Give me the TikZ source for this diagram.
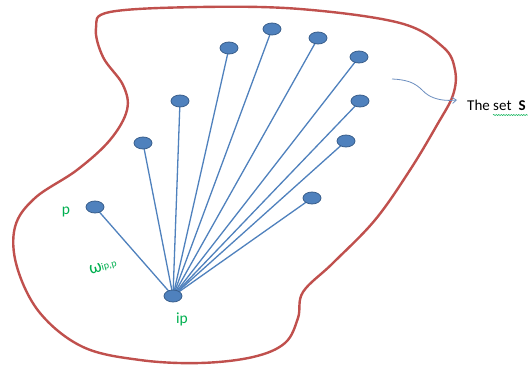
\documentclass[tikz,border=0pt]{standalone}
\usepackage{fontspec}
\setmainfont{Carlito}
\usetikzlibrary{shapes.geometric,backgrounds,decorations.pathmorphing,arrows.meta}
\definecolor{blob}{HTML}{C0504D}
\definecolor{ptfill}{HTML}{4F81BD}
\definecolor{ptedge}{HTML}{385D8A}
\definecolor{lbl}{HTML}{00B050}
\definecolor{callout}{HTML}{6C8EBF}
\tikzset{
  pt/.style={ellipse, fill=ptfill, draw=ptedge, line width=0.8pt, minimum width=18pt, minimum height=12pt, inner sep=0pt},
  ray/.style={draw=ptfill, line width=1.3pt},
  lab/.style={text=lbl, font=\fontsize{15.5}{17}\selectfont, inner sep=0pt},
}
\begin{document}
\begin{tikzpicture}[x=1pt,y=-1pt]
\useasboundingbox (0,0) rectangle (528,367);
% blob
\draw[blob, line width=2.4pt] plot[smooth cycle, tension=0.6] coordinates {
 (110,12) (200,7) (300,9) (400,23) (443,47) (455,70) (453,95) (437,125)
 (410,170) (375,220) (333,263) (303,292) (298,318) (285,343) (253,357)
 (200,363) (140,360) (83,347) (40,313) (17,267) (15,227) (35,198)
 (77,170) (110,140) (127,110) (123,85) (103,57) (96,28)};
% nodes
\node[pt] (ip) at (173,296) {};
\node[pt] (p)  at (95,207) {};
\node[pt] (n1) at (143,143) {};
\node[pt] (n2) at (180,101) {};
\node[pt] (n3) at (229,48) {};
\node[pt] (n4) at (272,29) {};
\node[pt] (n5) at (318,38) {};
\node[pt] (n6) at (359,57) {};
\node[pt] (n7) at (360,101) {};
\node[pt] (n8) at (346,141) {};
\node[pt] (n9) at (312,198) {};
\begin{scope}[on background layer]
\fill[white] (0,0) rectangle (528,367);
\foreach \n in {p,n1,n2,n3,n4,n5,n6,n7,n8,n9}
  \draw[ray] (ip.center) -- (\n.center);
\end{scope}
% labels
\node[lab] (lp) at (66,212) {p};
\node[lab, rotate=15, font=\fontsize{18}{20}\selectfont] (lw) at (103,267) {ω\raisebox{0.1ex}{\fontsize{10}{11}\selectfont ip,p}};
\node[lab] (lip) at (182,319) {ip};
% callout
\node[anchor=base west, inner sep=0pt, font=\fontsize{15}{17}\selectfont] (set) at (467,110) {The set\hspace{7pt}\textbf{S}};
\coordinate (cs) at (392,79);
\coordinate (ce) at (457,100);
\draw[callout, line width=0.8pt, -{Straight Barb[length=4pt,width=6pt]}] (cs) .. controls (418,80) and (420,90) .. (428,95) .. controls (436,100) and (446,101) .. (ce);
\draw[lbl, line width=0.5pt, decorate, decoration={snake, amplitude=0.6pt, segment length=2.5pt}] (493,115) -- (528,115);
\end{tikzpicture}
\end{document}
